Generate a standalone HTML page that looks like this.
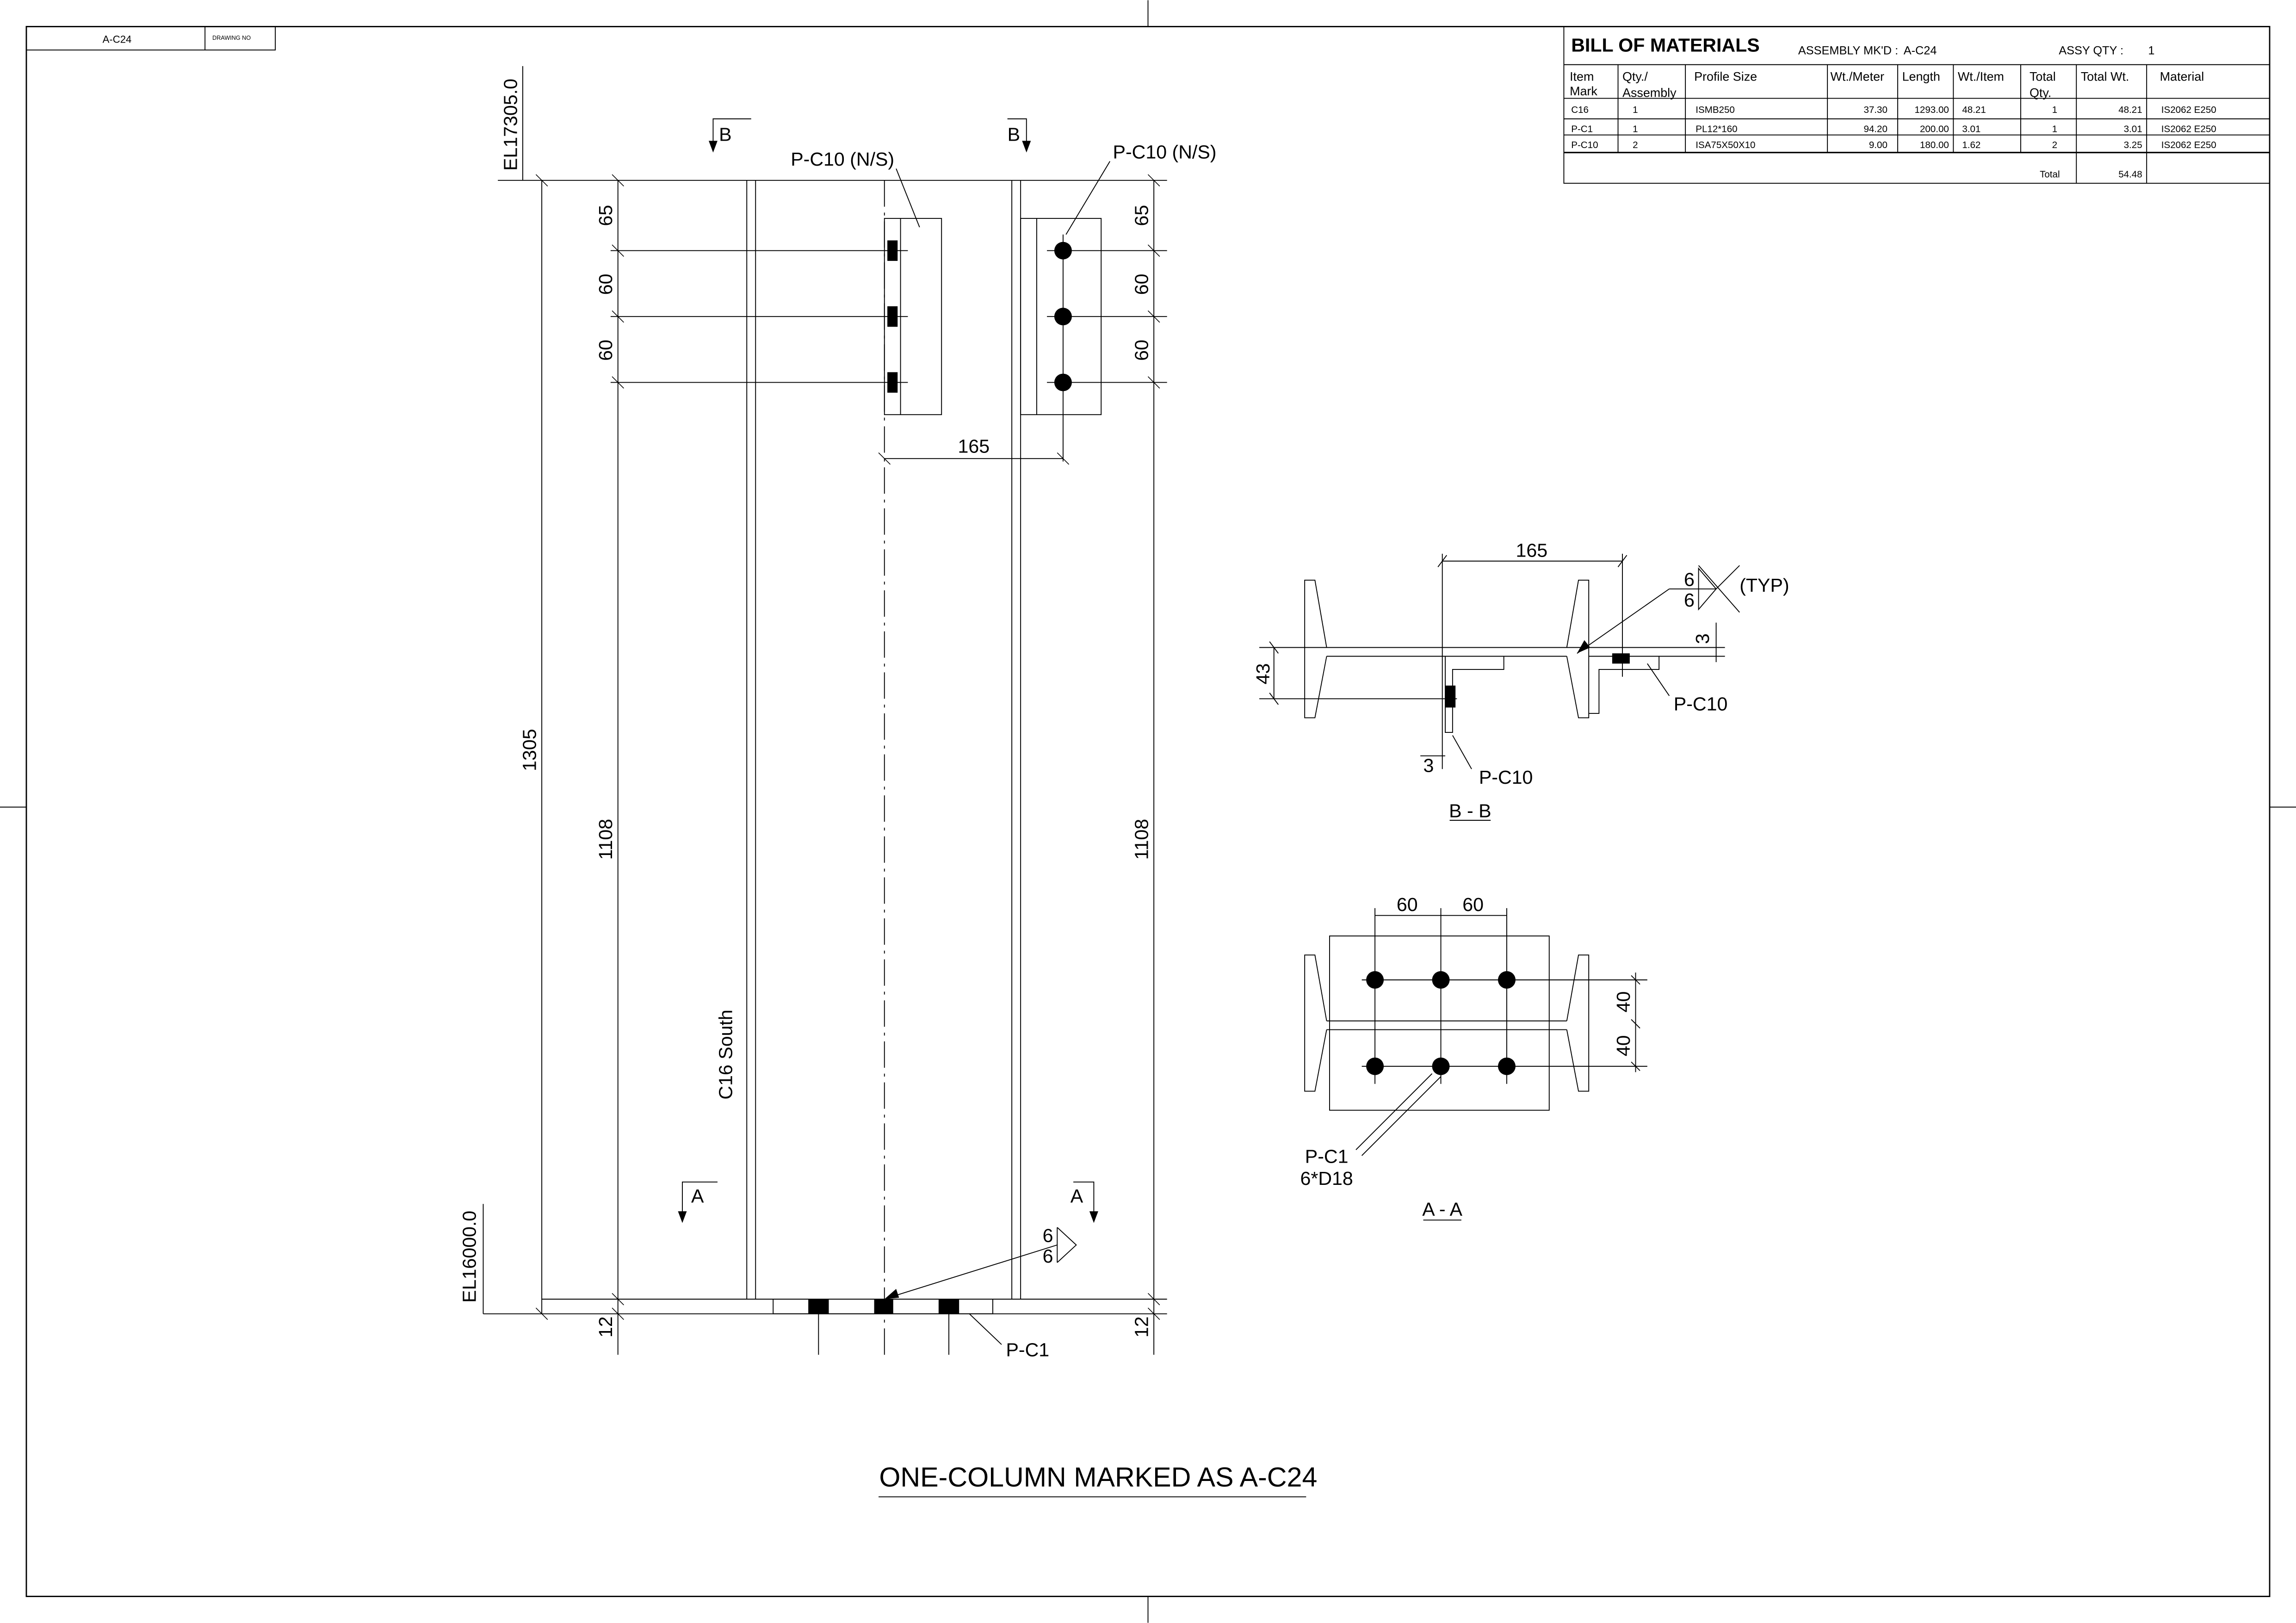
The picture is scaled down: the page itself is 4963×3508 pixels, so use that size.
<!DOCTYPE html>
<html><head><meta charset="utf-8"><style>
html,body{margin:0;padding:0;background:#fff}
svg{display:block}
text{font-family:"Liberation Sans",sans-serif;fill:#000}
</style></head><body>
<svg width="4963" height="3508" viewBox="0 0 1568 1108" xmlns="http://www.w3.org/2000/svg">
<g fill="none" stroke="#000" stroke-width="0.6">
<rect x="18" y="18" width="1532" height="1072" stroke-width="0.9"/>
<line x1="784" y1="0" x2="784" y2="18"/><line x1="784" y1="1090" x2="784" y2="1108"/>
<line x1="0" y1="551" x2="18" y2="551"/><line x1="1550" y1="551" x2="1568" y2="551"/>
<rect x="18" y="18" width="170" height="16"/><line x1="140" y1="18" x2="140" y2="34"/>
<rect x="1068" y="18" width="482" height="107"/>
<line x1="1068" y1="44" x2="1550" y2="44"/>
<line x1="1068" y1="67" x2="1550" y2="67"/>
<line x1="1068" y1="81" x2="1550" y2="81"/>
<line x1="1068" y1="92" x2="1550" y2="92"/>
<line x1="1068" y1="104" x2="1550" y2="104" stroke-width="1"/>
<line x1="1105" y1="44" x2="1105" y2="104"/><line x1="1151" y1="44" x2="1151" y2="104"/>
<line x1="1248" y1="44" x2="1248" y2="104"/><line x1="1296" y1="44" x2="1296" y2="104"/>
<line x1="1334" y1="44" x2="1334" y2="104"/><line x1="1380" y1="44" x2="1380" y2="104"/>
<line x1="1418" y1="44" x2="1418" y2="125"/><line x1="1466" y1="44" x2="1466" y2="125"/>

<line x1="340" y1="123" x2="797" y2="123"/>
<line x1="357" y1="45" x2="357" y2="123"/>
<line x1="330" y1="822" x2="330" y2="897"/>
<line x1="370" y1="123" x2="370" y2="897"/>
<line x1="422" y1="123" x2="422" y2="925"/>
<line x1="510" y1="123" x2="510" y2="887"/><line x1="516" y1="123" x2="516" y2="887"/>
<line x1="691" y1="123" x2="691" y2="887"/><line x1="697" y1="123" x2="697" y2="887"/>
<line x1="604" y1="123" x2="604" y2="925" stroke-dasharray="18,4,2,4"/>
<line x1="788" y1="123" x2="788" y2="925"/>
<line x1="370" y1="887" x2="797" y2="887"/>
<line x1="330" y1="897" x2="797" y2="897"/>
<rect x="528" y="887" width="150" height="10"/>
<line x1="559" y1="887" x2="559" y2="925"/><line x1="648" y1="887" x2="648" y2="925"/>
<g stroke-width="0.5">
<line x1="366" y1="119" x2="374" y2="127"/><line x1="366" y1="893" x2="374" y2="901"/>
<line x1="418" y1="119" x2="426" y2="127"/><line x1="418" y1="167" x2="426" y2="175"/><line x1="418" y1="212" x2="426" y2="220"/><line x1="418" y1="257" x2="426" y2="265"/><line x1="418" y1="883" x2="426" y2="891"/><line x1="418" y1="893" x2="426" y2="901"/>
<line x1="784" y1="119" x2="792" y2="127"/><line x1="784" y1="167" x2="792" y2="175"/><line x1="784" y1="212" x2="792" y2="220"/><line x1="784" y1="257" x2="792" y2="265"/><line x1="784" y1="883" x2="792" y2="891"/><line x1="784" y1="893" x2="792" y2="901"/>
<line x1="600" y1="309" x2="608" y2="317"/><line x1="722" y1="309" x2="730" y2="317"/>
</g>
<rect x="604" y="149" width="39" height="134"/><line x1="615" y1="149" x2="615" y2="283"/>
<line x1="417" y1="171" x2="620" y2="171"/><line x1="417" y1="216" x2="620" y2="216"/><line x1="417" y1="261" x2="620" y2="261"/>
<rect x="697" y="149" width="55" height="134"/><line x1="708" y1="149" x2="708" y2="283"/>
<line x1="726" y1="160" x2="726" y2="315"/>
<line x1="715" y1="171" x2="797" y2="171"/><line x1="715" y1="216" x2="797" y2="216"/><line x1="715" y1="261" x2="797" y2="261"/>
<line x1="604" y1="313" x2="726" y2="313"/>
<line x1="612" y1="115" x2="628" y2="155"/>
<line x1="758" y1="110" x2="728" y2="160"/>
<line x1="722" y1="850" x2="610" y2="885"/>
<path d="M722 838 L735 850 L722 862"/><line x1="722" y1="838" x2="722" y2="862"/>
<line x1="662" y1="897" x2="684" y2="918"/>
<path d="M513 81 H487 V102"/><path d="M688 81 H701 V102"/>
<path d="M490 807 H466 V833"/><path d="M733 807 H747 V833"/>

<path d="M906 442 L898 396 H891 V490 H898 L906 448"/>
<path d="M1070 442 L1078 396 H1085 V490 H1078 L1070 448"/>
<line x1="860" y1="442" x2="1178" y2="442"/><line x1="906" y1="448" x2="1070" y2="448"/>
<line x1="1085" y1="448" x2="1178" y2="448"/>
<line x1="985" y1="378" x2="985" y2="525"/><line x1="1108" y1="378" x2="1108" y2="462"/>
<line x1="985" y1="383" x2="1108" y2="383"/>
<line x1="982" y1="387" x2="988" y2="379"/><line x1="1105" y1="387" x2="1111" y2="379"/>
<line x1="870" y1="442" x2="870" y2="477"/><line x1="860" y1="477" x2="995" y2="477"/>
<line x1="867" y1="438" x2="873" y2="446"/><line x1="867" y1="473" x2="873" y2="481"/>
<path d="M987 448 H1027 V457 H992 V500 H987 Z"/>
<path d="M1085 448 H1133 V457 H1092 V487 H1085"/>
<line x1="1125" y1="453" x2="1140" y2="475"/>
<line x1="992" y1="502" x2="1005" y2="525"/>
<line x1="970" y1="516" x2="987" y2="516"/>
<line x1="1140" y1="402" x2="1172" y2="402"/>
<line x1="1140" y1="402" x2="1077" y2="446"/>
<path d="M1160 388 L1172 402 L1160 416 Z"/>
<line x1="1160" y1="386" x2="1188" y2="418"/><line x1="1188" y1="386" x2="1172" y2="402"/>
<line x1="1172" y1="425" x2="1172" y2="452"/>
<line x1="990" y1="560" x2="1018" y2="560"/>

<rect x="908" y="639" width="150" height="119"/>
<path d="M906 697 L898 652 H891 V745 H898 L906 703"/>
<path d="M1070 697 L1078 652 H1085 V745 H1078 L1070 703"/>
<line x1="906" y1="697" x2="1070" y2="697"/><line x1="906" y1="703" x2="1070" y2="703"/>
<line x1="939" y1="620" x2="939" y2="740"/><line x1="984" y1="620" x2="984" y2="740"/><line x1="1029" y1="620" x2="1029" y2="740"/>
<line x1="939" y1="625" x2="1029" y2="625"/>
<line x1="930" y1="669" x2="1125" y2="669"/><line x1="930" y1="728" x2="1125" y2="728"/>
<line x1="1117" y1="664" x2="1117" y2="732"/>
<line x1="1114" y1="666" x2="1120" y2="672"/><line x1="1114" y1="696" x2="1120" y2="702"/><line x1="1114" y1="725" x2="1120" y2="731"/>
<line x1="926" y1="785" x2="978" y2="733"/><line x1="930" y1="789" x2="984" y2="735"/>
<line x1="972" y1="833" x2="998" y2="833"/>
<line x1="600" y1="1022" x2="892" y2="1022"/>
</g>
<g fill="#000">
<polygon points="484,96 490,96 487,104"/><polygon points="698,96 704,96 701,104"/>
<polygon points="463,827 469,827 466,835"/><polygon points="744,827 750,827 747,835"/>
<rect x="606" y="164" width="7" height="14"/><rect x="606" y="209" width="7" height="14"/><rect x="606" y="254" width="7" height="14"/>
<circle cx="726" cy="171" r="6"/><circle cx="726" cy="216" r="6"/><circle cx="726" cy="261" r="6"/>
<rect x="552" y="887" width="14" height="10"/><rect x="597" y="887" width="13" height="10"/><rect x="641" y="887" width="14" height="10"/>
<polygon points="604,887 612,880 614,886"/>
<rect x="987" y="468" width="7" height="15"/><rect x="1101" y="446" width="12" height="7"/>
<polygon points="1077,446 1082,437 1086,442"/>
<circle cx="939" cy="669" r="6"/><circle cx="984" cy="669" r="6"/><circle cx="1029" cy="669" r="6"/>
<circle cx="939" cy="728" r="6"/><circle cx="984" cy="728" r="6"/><circle cx="1029" cy="728" r="6"/>
</g>
<g font-size="7">
<text x="70" y="29">A-C24</text>
<text x="145" y="27" font-size="4">DRAWING NO</text>
</g>
<text x="1073" y="35" font-size="13" font-weight="bold">BILL OF MATERIALS</text>
<text x="1228" y="37" font-size="8">ASSEMBLY MK'D :</text><text x="1300" y="37" font-size="8">A-C24</text>
<text x="1406" y="37" font-size="8">ASSY QTY :</text><text x="1467" y="37" font-size="8">1</text>
<g font-size="8.5">
<text x="1072" y="55">Item</text><text x="1072" y="65">Mark</text>
<text x="1108" y="55">Qty./</text><text x="1108" y="66">Assembly</text>
<text x="1157" y="55">Profile Size</text>
<text x="1250" y="55">Wt./Meter</text><text x="1299" y="55">Length</text><text x="1337" y="55">Wt./Item</text>
<text x="1386" y="55">Total</text><text x="1386" y="66">Qty.</text>
<text x="1421" y="55">Total Wt.</text><text x="1475" y="55">Material</text>
</g>
<g font-size="6.5">
<text x="1073" y="77">C16</text><text x="1115" y="77">1</text><text x="1158" y="77">ISMB250</text>
<text x="1289" y="77" text-anchor="end">37.30</text><text x="1331" y="77" text-anchor="end">1293.00</text><text x="1340" y="77">48.21</text><text x="1405" y="77" text-anchor="end">1</text><text x="1463" y="77" text-anchor="end">48.21</text><text x="1476" y="77">IS2062 E250</text>
<text x="1073" y="90">P-C1</text><text x="1115" y="90">1</text><text x="1158" y="90">PL12*160</text>
<text x="1289" y="90" text-anchor="end">94.20</text><text x="1331" y="90" text-anchor="end">200.00</text><text x="1340" y="90">3.01</text><text x="1405" y="90" text-anchor="end">1</text><text x="1463" y="90" text-anchor="end">3.01</text><text x="1476" y="90">IS2062 E250</text>
<text x="1073" y="101">P-C10</text><text x="1115" y="101">2</text><text x="1158" y="101">ISA75X50X10</text>
<text x="1289" y="101" text-anchor="end">9.00</text><text x="1331" y="101" text-anchor="end">180.00</text><text x="1340" y="101">1.62</text><text x="1405" y="101" text-anchor="end">2</text><text x="1463" y="101" text-anchor="end">3.25</text><text x="1476" y="101">IS2062 E250</text>
<text x="1393" y="121">Total</text><text x="1463" y="121" text-anchor="end">54.48</text>
</g>
<g font-size="13">
<text x="491" y="96">B</text><text x="688" y="96">B</text>
<text x="472" y="821">A</text><text x="731" y="821">A</text>
<text x="540" y="113">P-C10 (N/S)</text><text x="760" y="108">P-C10 (N/S)</text>
<text x="665" y="309" text-anchor="middle">165</text>
<text x="687" y="926">P-C1</text>
<text transform="translate(353,85) rotate(-90)" text-anchor="middle">EL17305.0</text>
<text transform="translate(325,858) rotate(-90)" text-anchor="middle">EL16000.0</text>
<text transform="translate(366,512) rotate(-90)" text-anchor="middle">1305</text>
<text transform="translate(418,573) rotate(-90)" text-anchor="middle">1108</text>
<text transform="translate(784,573) rotate(-90)" text-anchor="middle">1108</text>
<text transform="translate(418,147) rotate(-90)" text-anchor="middle">65</text>
<text transform="translate(418,194) rotate(-90)" text-anchor="middle">60</text>
<text transform="translate(418,239) rotate(-90)" text-anchor="middle">60</text>
<text transform="translate(784,147) rotate(-90)" text-anchor="middle">65</text>
<text transform="translate(784,194) rotate(-90)" text-anchor="middle">60</text>
<text transform="translate(784,239) rotate(-90)" text-anchor="middle">60</text>
<text transform="translate(418,906) rotate(-90)" text-anchor="middle">12</text>
<text transform="translate(784,906) rotate(-90)" text-anchor="middle">12</text>
<text transform="translate(500,720) rotate(-90)" text-anchor="middle">C16 South</text>
<text x="712" y="848">6</text><text x="712" y="862">6</text>
<text x="1046" y="380" text-anchor="middle">165</text>
<text x="1150" y="400">6</text><text x="1150" y="414">6</text>
<text x="1188" y="404">(TYP)</text>
<text transform="translate(1167,436) rotate(-90)" text-anchor="middle">3</text>
<text transform="translate(867,460) rotate(-90)" text-anchor="middle">43</text>
<text x="1143" y="485">P-C10</text>
<text x="1010" y="535">P-C10</text>
<text x="972" y="527">3</text>
<text x="1004" y="558" text-anchor="middle">B - B</text>
<text x="961" y="622" text-anchor="middle">60</text><text x="1006" y="622" text-anchor="middle">60</text>
<text transform="translate(1113,684) rotate(-90)" text-anchor="middle">40</text>
<text transform="translate(1113,714) rotate(-90)" text-anchor="middle">40</text>
<text x="906" y="794" text-anchor="middle">P-C1</text>
<text x="906" y="809" text-anchor="middle">6*D18</text>
<text x="985" y="830" text-anchor="middle">A - A</text>
</g>
<text x="750" y="1015" font-size="18.7" text-anchor="middle">ONE-COLUMN MARKED AS A-C24</text>
</svg>
</body></html>
